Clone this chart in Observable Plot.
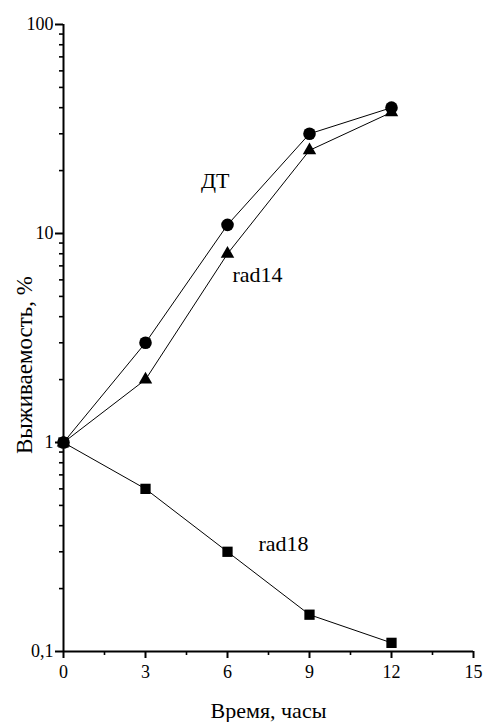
<!DOCTYPE html>
<html>
<head>
<meta charset="utf-8">
<script src="https://cdn.jsdelivr.net/npm/d3@7"></script>
<script src="https://cdn.jsdelivr.net/npm/@observablehq/plot@0.6"></script>
<style>
  html, body { margin: 0; padding: 0; background: #fff; }
  #chart svg, #chart svg text { font-family: "Liberation Serif", "Times New Roman", serif !important; }
</style>
</head>
<body>
<div id="chart"></div>
<script>
// Data
const times = [0, 3, 6, 9, 12];
const seriesDT = [1, 3, 11, 30, 40];
const seriesRad14 = [1, 2, 8, 25, 38];
const seriesRad18 = [1, 0.6, 0.3, 0.15, 0.11];

const seriesNames = ["ДТ", "rad14", "rad18"];
const seriesSymbols = ["circle", "triangle", "square"];

const xTicks = [0, 3, 6, 9, 12, 15];
const xMinorTicks = [1.5, 4.5, 7.5, 10.5, 13.5];
const yTicks = [0.1, 1, 10, 100];
const yTickLabels = ["0,1", "1", "10", "100"];
const yMinorTicks = [0.2, 0.3, 0.4, 0.5, 0.6, 0.7, 0.8, 0.9,
                     2, 3, 4, 5, 6, 7, 8, 9,
                     20, 30, 40, 50, 60, 70, 80, 90];

const xLabel = "Время, часы";
const yLabel = "Выживаемость, %";

// annotation labels (data coordinates)
const annotNames = ["ДТ", "rad14", "rad18"];
const annotX = [5.55, 7.1, 8.05];
const annotY = [17.8, 6.3, 0.326];

const seriesValues = [seriesDT, seriesRad14, seriesRad18];
const table = [];
seriesNames.forEach((name, i) => {
  times.forEach((t, j) => table.push({series: name, symbol: seriesSymbols[i], time: t, value: seriesValues[i][j]}));
});
const annots = annotNames.map((n, i) => ({name: n, x: annotX[i], y: annotY[i]}));

const font = "Liberation Serif";

const chart = Plot.plot({
  width: 483,
  height: 722,
  marginLeft: 63,
  marginRight: 10,
  marginTop: 24,
  marginBottom: 71,
  style: {fontFamily: font, fontSize: "18px", color: "#000", background: "#fff"},
  x: {domain: [0, 15]},
  y: {type: "log", domain: [0.1, 100]},
  marks: [
    Plot.axisX({ticks: xMinorTicks, tickSize: 4, strokeWidth: 1.6, label: null, tickFormat: () => ""}),
    Plot.axisX({ticks: xTicks, tickSize: 7, tickPadding: 7, strokeWidth: 2, label: null, fontSize: 18, fontFamily: font}),
    Plot.axisY({ticks: yMinorTicks, tickSize: 4, strokeWidth: 1.6, label: null, tickFormat: () => ""}),
    Plot.axisY({ticks: yTicks, tickSize: 8, tickPadding: 2, strokeWidth: 2, label: null, fontSize: 18, fontFamily: font,
      tickFormat: d => yTickLabels[yTicks.indexOf(d)]}),
    Plot.ruleX([0], {strokeWidth: 2}),
    Plot.ruleY([0.1], {strokeWidth: 2}),
    Plot.line(table, {x: "time", y: "value", z: "series", stroke: "#000", strokeWidth: 1}),
    Plot.dot(table.filter(d => d.symbol === "circle"), {x: "time", y: "value", symbol: "circle", r: 6.3, fill: "#000", stroke: "none"}),
    Plot.dot(table.filter(d => d.symbol === "triangle"), {x: "time", y: "value", symbol: "triangle", r: 5, fill: "#000", stroke: "none"}),
    Plot.dot(table.filter(d => d.symbol === "square"), {x: "time", y: "value", symbol: "square", r: 5.8, fill: "#000", stroke: "none"}),
    Plot.text(annots, {x: "x", y: "y", text: "name", fontSize: 22, fontFamily: font, fill: "#000"}),
    Plot.text([xLabel], {frameAnchor: "bottom", textAnchor: "middle", dy: 66, fontSize: 22, fontFamily: font, fill: "#000"}),
    Plot.text([yLabel], {frameAnchor: "left", textAnchor: "middle", lineAnchor: "middle", dx: -39, dy: 27, rotate: -90, fontSize: 23, fontFamily: font, fill: "#000"})
  ]
});
document.getElementById("chart").appendChild(chart);
</script>
</body>
</html>
